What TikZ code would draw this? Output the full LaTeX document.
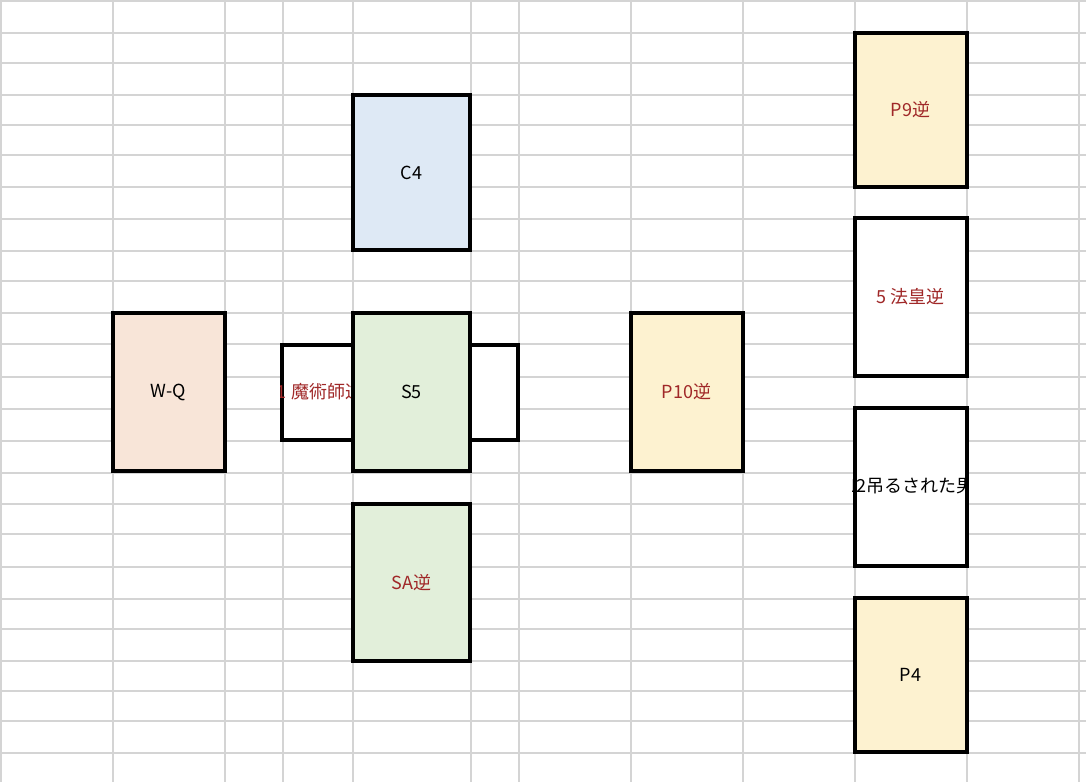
\documentclass[tikz,border=0pt]{standalone}
\usepackage{fontspec}
\setmainfont{Noto Sans CJK JP}
\usepackage{tikz}
\usetikzlibrary{positioning}

\definecolor{gridgray}{RGB}{212,212,212}
\definecolor{peach}{RGB}{248,229,216}
\definecolor{paleblue}{RGB}{222,233,245}
\definecolor{palegreen}{RGB}{226,239,218}
\definecolor{paleyellow}{RGB}{253,242,208}
\definecolor{revred}{RGB}{160,40,40}

\begin{document}
\begin{tikzpicture}[
    x=1pt, y=-1pt,
    gridln/.style={draw=gridgray, line width=1.6pt},
    card/.style={draw=black, line width=4pt, minimum width=112, minimum height=158, inner sep=0pt, font=\fontsize{18}{21}\selectfont},
    lbl/.style={inner sep=0pt, font=\fontsize{18}{21}\selectfont}
]
\useasboundingbox (0,0) rectangle (1086,782);
\fill[white] (0,0) rectangle (1086,782);

% sheet grid
\foreach \gx in {1,113,225,283,353,471,519,631,743,855,967,1079}
    \draw[gridln] (\gx,0) -- (\gx,782);
\foreach \gy in {1,33,63,95,125,155,187,219,251,281,313,344,377,409,441,473,504,534,567,599,629,661,691,721,753}
    \draw[gridln] (0,\gy) -- (1086,\gy);

% cross
\node[card, fill=peach] (wq) at (168.5,392) {W-Q};
\node[card, fill=paleblue, minimum width=117, minimum height=155] (c4) at (411.5,172.5) {C4};
\node[card, fill=white, minimum width=236, minimum height=95] (cross) at (400,392) {};
\begin{scope}
    \clip (cross.south west) rectangle (cross.north east);
    \node[lbl, text=revred] (crosstxt) at (320,392) {1 魔術師逆};
\end{scope}
\node[card, fill=palegreen, minimum width=117] (s5) at (411.5,392) {S5};
\node[card, fill=palegreen, text=revred, minimum width=117, minimum height=157] (sa) at (411.5,582.5) {SA逆};
\node[card, fill=paleyellow, text=revred] (p10) at (686.5,392) {P10逆};

% staff
\node[card, fill=paleyellow, text=revred, minimum height=154] (p9) at (910.5,109.5) {P9逆};
\node[card, fill=white, text=revred] (hiero) at (910.5,297) {5 法皇逆};
\node[card, fill=white] (hanged) at (910.5,486.5) {};
\begin{scope}
    \clip (hanged.south west) rectangle (hanged.north east);
    \node[lbl] (hangedtxt) at (910.5,486.5) {12吊るされた男};
\end{scope}
\node[card, fill=paleyellow, minimum height=154] (p4) at (910.5,675) {P4};
\end{tikzpicture}
\end{document}
